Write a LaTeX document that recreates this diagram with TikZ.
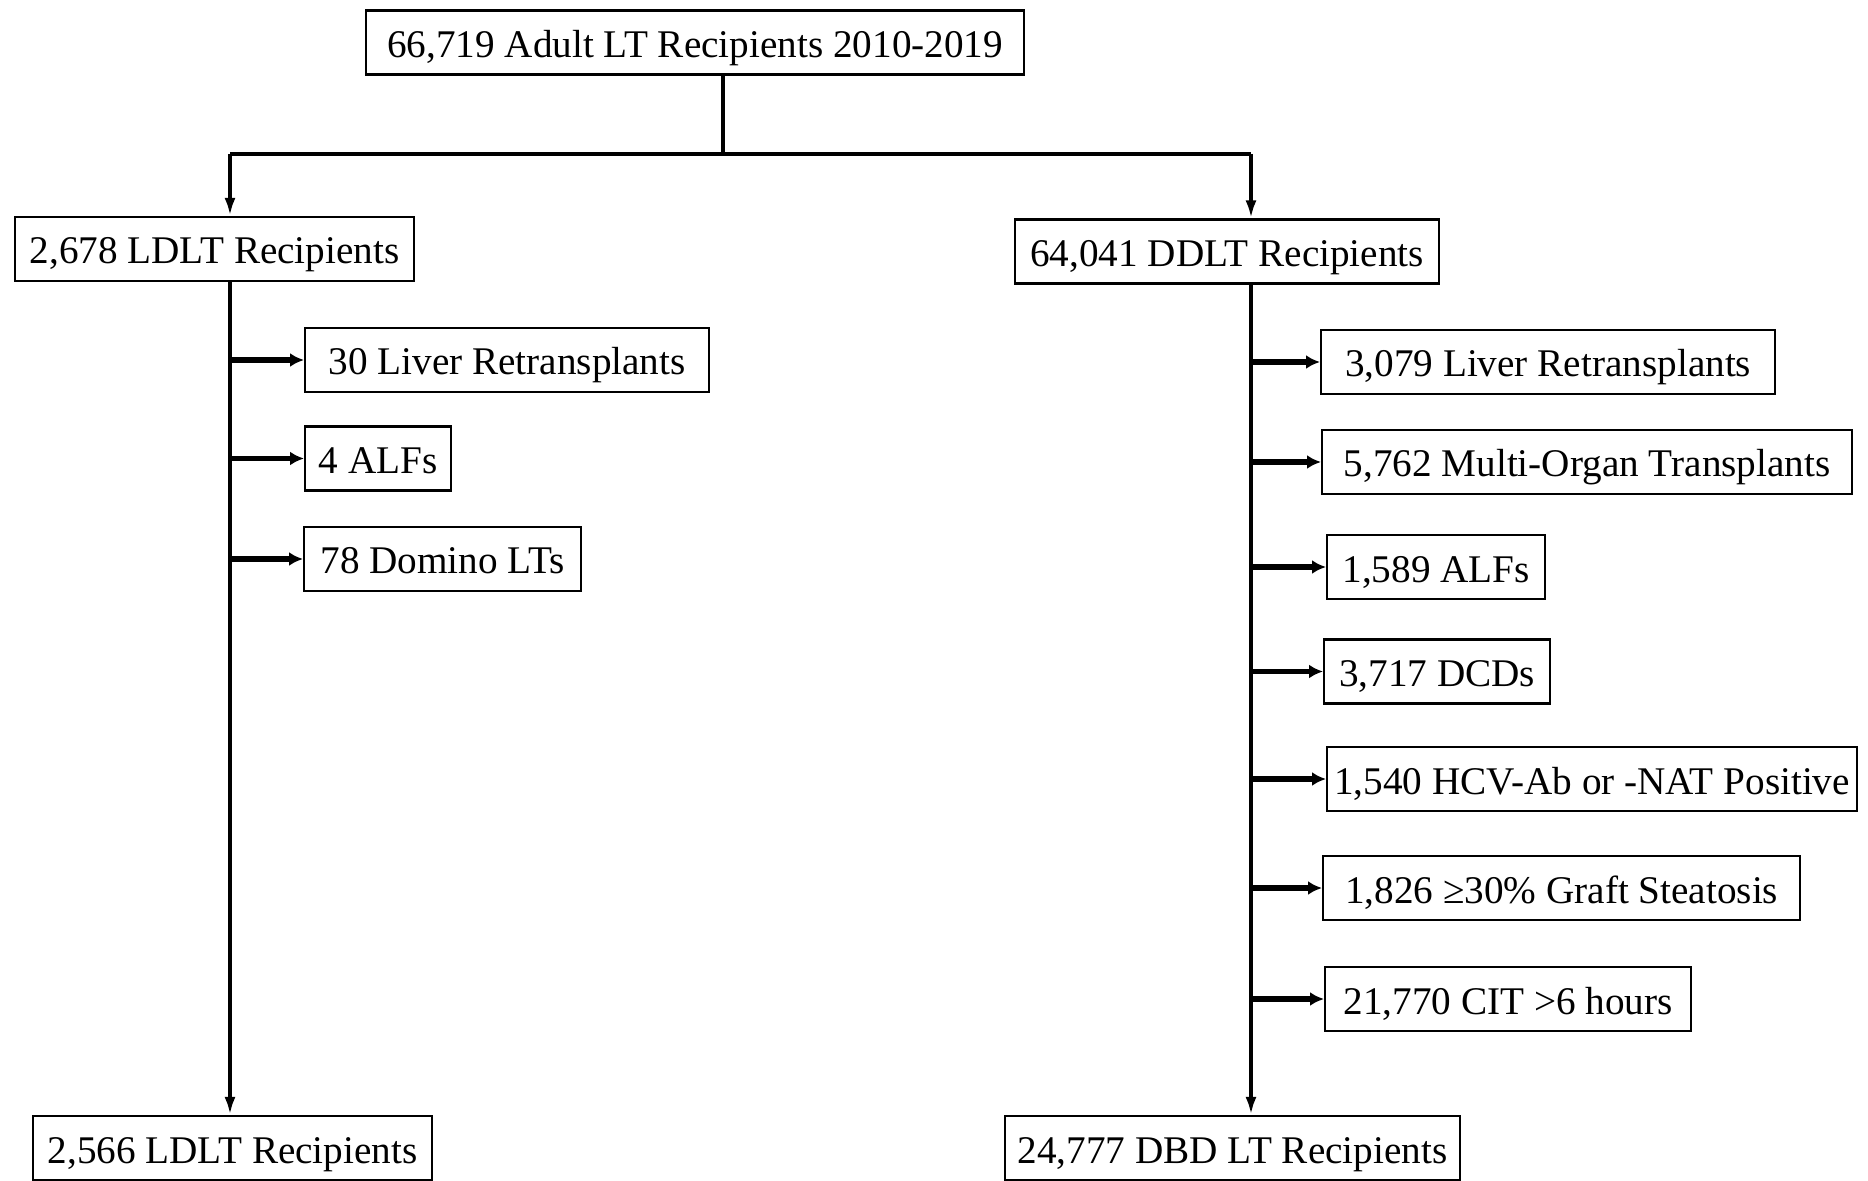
\documentclass[tikz,border=0pt]{standalone}
\usepackage{fontspec}
\setmainfont{Liberation Serif}
\usetikzlibrary{arrows.meta,positioning,calc}
\tikzset{
  >={Latex[length=9pt,width=5.5pt]},
  flowbox/.style={rectangle, draw=black, line width=1.1pt, minimum height=32pt,
                  inner sep=0pt, text centered, anchor=west,
                  text height=17pt, text depth=2pt,
                  font=\fontsize{19.6}{22}\selectfont},
  trunk/.style={draw, line width=2pt},
  side/.style={draw, line width=2.6pt, -{Latex[length=7pt,width=7pt]}}
}

\begin{document}
\begin{tikzpicture}[x=0.5pt,y=-0.5pt]
  \useasboundingbox (0,0) rectangle (1868,1181);

  % Top box and the two arms.
  \node[flowbox, minimum width=329pt] (all) at (365,42.5) {66,719 Adult LT Recipients 2010-2019};
  \node[flowbox, minimum width=199.5pt] (ldlt) at (14,249) {2,678 LDLT Recipients};
  \node[flowbox, minimum width=212pt] (ddlt) at (1014,251.5) {64,041 DDLT Recipients};

  \coordinate (split) at (723,154);
  \coordinate (ltrunk) at (230,154);
  \coordinate (rtrunk) at (1251,154);

  \draw[trunk] (all.south -| split) -- (split);
  \draw[trunk] (ltrunk) -- (rtrunk);
  \draw[trunk,->] (ltrunk) -- (ltrunk |- ldlt.north);
  \draw[trunk,->] (rtrunk) -- (rtrunk |- ddlt.north);

  % LDLT exclusions.
  \node[flowbox, minimum width=202pt] (lex1) at (304,360) {30 Liver Retransplants};
  \node[flowbox, minimum width=73pt] (lex2) at (304,458.5) {4 ALFs};
  \node[flowbox, minimum width=138.5pt] (lex3) at (303,559) {78 Domino LTs};

  % DDLT exclusions.
  \node[flowbox, minimum width=227pt] (rex1) at (1320,362) {3,079 Liver Retransplants};
  \node[flowbox, minimum width=265pt] (rex2) at (1321,462) {5,762 Multi-Organ Transplants};
  \node[flowbox, minimum width=109pt] (rex3) at (1326,567) {1,589 ALFs};
  \node[flowbox, minimum width=113pt] (rex4) at (1323,671.5) {3,717 DCDs};
  \node[flowbox, minimum width=265pt] (rex5) at (1326,779) {1,540 HCV-Ab or -NAT Positive};
  \node[flowbox, minimum width=238.5pt] (rex6) at (1322,888) {1,826 ≥30\% Graft Steatosis};
  \node[flowbox, minimum width=183pt] (rex7) at (1324,999) {21,770 CIT >6 hours};

  % Final cohorts.
  \node[flowbox, minimum width=199.5pt] (lfin) at (32,1148) {2,566 LDLT Recipients};
  \node[flowbox, minimum width=227.5pt] (rfin) at (1004,1148) {24,777 DBD LT Recipients};

  \draw[trunk,->] (ltrunk |- ldlt.south) -- (ltrunk |- lfin.north);
  \draw[trunk,->] (rtrunk |- ddlt.south) -- (rtrunk |- rfin.north);

  \foreach \b in {lex1,lex2,lex3}
    \draw[side] (ltrunk |- \b.west) -- (\b.west);
  \foreach \b in {rex1,rex2,rex3,rex4,rex5,rex6,rex7}
    \draw[side] (rtrunk |- \b.west) -- (\b.west);
\end{tikzpicture}
\end{document}
